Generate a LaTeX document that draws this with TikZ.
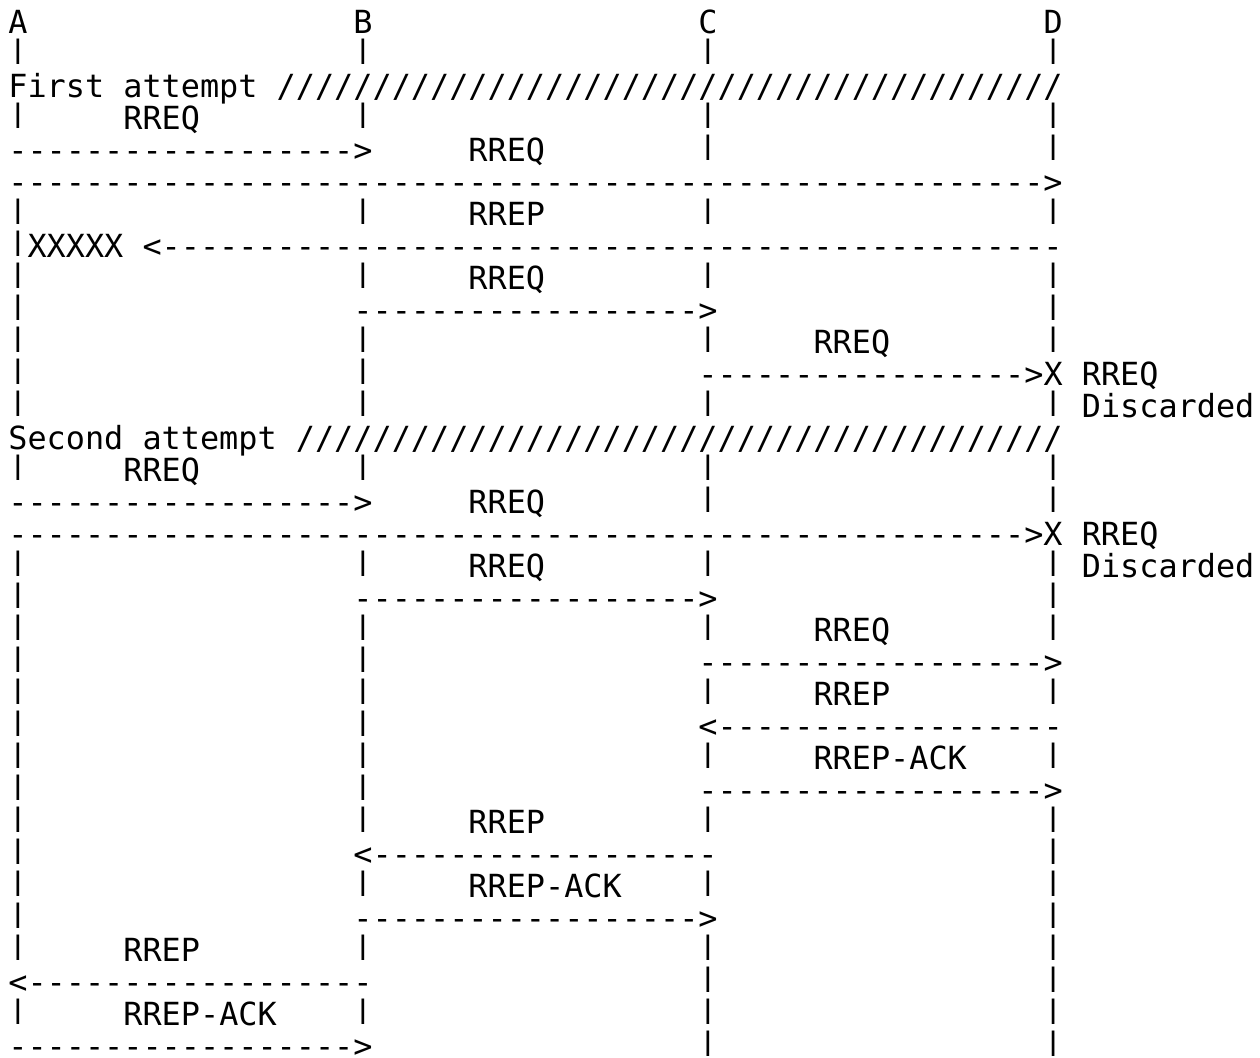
\documentclass[tikz,border=0pt]{standalone}
\usepackage{fontspec}
\usepackage{graphicx}
\setmonofont{DejaVu Sans Mono}
\ExplSyntaxOn
\cs_new:Npn \dsh #1 {\prg_replicate:nn{#1}{-}}
\cs_new:Npn \spc #1 {\prg_replicate:nn{#1}{\nobreakspace}}
\cs_new:Npn \slh #1 {\prg_replicate:nn{#1}{/}}
\ExplSyntaxOff
\newcommand\vb{\raisebox{0.2em}{\scalebox{1}[0.8]{|}}}
\tikzset{ascii/.style={anchor=base west,inner sep=0pt,outer sep=0pt,
  font=\ttfamily\fontsize{15.92pt}{16pt}\selectfont,text=black}}
\newcommand\asciirow[2]{\node[ascii] (r#1) at ({4.2pt},{-16.5pt-(#1-1)*16pt}) {#2};}
\begin{document}
\begin{tikzpicture}
\useasboundingbox[fill=white] (0,0) rectangle (630pt,-528.5pt);
\asciirow{1}{A\spc{17}B\spc{17}C\spc{17}D}
\asciirow{2}{\vb\spc{17}\vb\spc{17}\vb\spc{17}\vb}
\asciirow{3}{First~attempt~\slh{41}}
\asciirow{4}{\vb\spc{5}RREQ\spc{8}\vb\spc{17}\vb\spc{17}\vb}
\asciirow{5}{\dsh{18}>\spc{5}RREQ\spc{8}\vb\spc{17}\vb}
\asciirow{6}{\dsh{54}>}
\asciirow{7}{\vb\spc{17}\vb\spc{5}RREP\spc{8}\vb\spc{17}\vb}
\asciirow{8}{\vb XXXXX~<\dsh{47}}
\asciirow{9}{\vb\spc{17}\vb\spc{5}RREQ\spc{8}\vb\spc{17}\vb}
\asciirow{10}{\vb\spc{17}\dsh{18}>\spc{17}\vb}
\asciirow{11}{\vb\spc{17}\vb\spc{17}\vb\spc{5}RREQ\spc{8}\vb}
\asciirow{12}{\vb\spc{17}\vb\spc{17}\dsh{17}>X~RREQ}
\asciirow{13}{\vb\spc{17}\vb\spc{17}\vb\spc{17}\vb~Discarded}
\asciirow{14}{Second~attempt~\slh{40}}
\asciirow{15}{\vb\spc{5}RREQ\spc{8}\vb\spc{17}\vb\spc{17}\vb}
\asciirow{16}{\dsh{18}>\spc{5}RREQ\spc{8}\vb\spc{17}\vb}
\asciirow{17}{\dsh{53}>X~RREQ}
\asciirow{18}{\vb\spc{17}\vb\spc{5}RREQ\spc{8}\vb\spc{17}\vb~Discarded}
\asciirow{19}{\vb\spc{17}\dsh{18}>\spc{17}\vb}
\asciirow{20}{\vb\spc{17}\vb\spc{17}\vb\spc{5}RREQ\spc{8}\vb}
\asciirow{21}{\vb\spc{17}\vb\spc{17}\dsh{18}>}
\asciirow{22}{\vb\spc{17}\vb\spc{17}\vb\spc{5}RREP\spc{8}\vb}
\asciirow{23}{\vb\spc{17}\vb\spc{17}<\dsh{18}}
\asciirow{24}{\vb\spc{17}\vb\spc{17}\vb\spc{5}RREP-ACK\spc{4}\vb}
\asciirow{25}{\vb\spc{17}\vb\spc{17}\dsh{18}>}
\asciirow{26}{\vb\spc{17}\vb\spc{5}RREP\spc{8}\vb\spc{17}\vb}
\asciirow{27}{\vb\spc{17}<\dsh{18}\spc{17}\vb}
\asciirow{28}{\vb\spc{17}\vb\spc{5}RREP-ACK\spc{4}\vb\spc{17}\vb}
\asciirow{29}{\vb\spc{17}\dsh{18}>\spc{17}\vb}
\asciirow{30}{\vb\spc{5}RREP\spc{8}\vb\spc{17}\vb\spc{17}\vb}
\asciirow{31}{<\dsh{18}\spc{17}\vb\spc{17}\vb}
\asciirow{32}{\vb\spc{5}RREP-ACK\spc{4}\vb\spc{17}\vb\spc{17}\vb}
\asciirow{33}{\dsh{18}>\spc{17}\vb\spc{17}\vb}
\end{tikzpicture}
\end{document}
